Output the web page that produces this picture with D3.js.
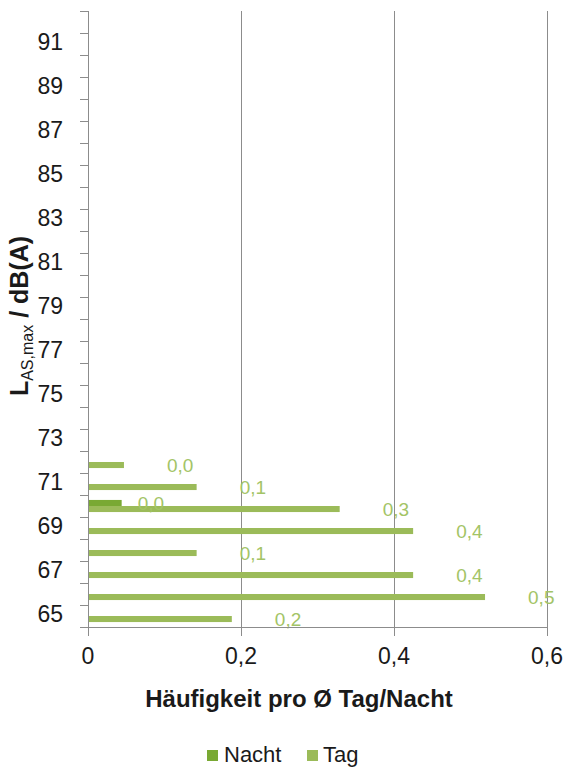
<!DOCTYPE html>
<html>
<head>
<meta charset="utf-8">
<script src="https://cdn.jsdelivr.net/npm/d3@7"></script>
<style>
  html, body { margin: 0; padding: 0; background: #ffffff; }
  svg { display: block; font-family: "Liberation Sans", Arial, sans-serif; }
</style>
</head>
<body>
<svg id="chart" width="566" height="769"></svg>
<script>
// ---- data ----
const categories = [65, 66, 67, 68, 69, 70, 71, 72, 73, 74, 75, 76, 77, 78, 79, 80, 81, 82, 83, 84, 85, 86, 87, 88, 89, 90, 91, 92];
const seriesNames = ["Nacht", "Tag"];
const nachtValues = [0, 0, 0, 0, 0, 0.044, 0, 0, 0, 0, 0, 0, 0, 0, 0, 0, 0, 0, 0, 0, 0, 0, 0, 0, 0, 0, 0, 0];
const tagValues = [0.188, 0.519, 0.425, 0.142, 0.425, 0.329, 0.142, 0.047, 0, 0, 0, 0, 0, 0, 0, 0, 0, 0, 0, 0, 0, 0, 0, 0, 0, 0, 0, 0];
const xTicks = [0, 0.2, 0.4, 0.6];
const yTickLabels = [65, 67, 69, 71, 73, 75, 77, 79, 81, 83, 85, 87, 89, 91];

// ---- layout ----
const svg = d3.select("#chart");
const margin = { left: 88, right: 19, top: 11, bottom: 142 };
const W = 566, H = 769;
const x0 = margin.left, x1 = W - margin.right;
const yTop = margin.top, yBot = H - margin.bottom;

const colors = { Nacht: "#79a933", Tag: "#9bbb59" };
const gridColor = "#8c8c8c";

const x = d3.scaleLinear().domain([0, 0.6]).range([x0, x1]);
const pIn = 0.45;
const y = d3.scaleBand().domain(categories.map(String)).range([yBot, yTop])
  .paddingInner(pIn).paddingOuter(pIn / 2);
const ySub = d3.scaleBand().domain(seriesNames).range([0, y.bandwidth()]);

const locale = d3.formatLocale({ decimal: ",", thousands: ".", grouping: [3], currency: ["", "€"] });
const fmt = locale.format(".1f");
const fmtTick = locale.format("~g");

// gridlines
svg.append("g").selectAll("line").data(xTicks.filter(d => d > 0)).join("line")
  .attr("x1", d => x(d) + 0.5).attr("x2", d => x(d) + 0.5)
  .attr("y1", yTop).attr("y2", yBot)
  .attr("stroke", gridColor).attr("stroke-width", 1);

// data rows
const rows = categories.map((c, i) => ({ cat: String(c), Nacht: nachtValues[i], Tag: tagValues[i] }));
const flat = [];
rows.forEach(r => seriesNames.forEach(s => flat.push({ cat: r.cat, series: s, value: r[s] })));

svg.append("g").selectAll("rect").data(flat.filter(d => d.value > 0)).join("rect")
  .attr("x", x(0))
  .attr("y", d => y(d.cat) + ySub(d.series))
  .attr("width", d => x(d.value) - x(0))
  .attr("height", ySub.bandwidth())
  .attr("fill", d => colors[d.series]);

// data labels
const labelOffset = { Nacht: 16, Tag: 43 };
svg.append("g").selectAll("text").data(flat.filter(d => d.value > 0)).join("text")
  .attr("x", d => x(d.value) + labelOffset[d.series])
  .attr("y", d => y(d.cat) + ySub(d.series) + ySub.bandwidth() / 2 + 2)
  .attr("dominant-baseline", "middle")
  .attr("font-size", 19)
  .attr("fill", "#a3c466")
  .text(d => fmt(d.value));

// y axis
const yAxisG = svg.append("g");
yAxisG.append("line").attr("x1", x0 + 0.5).attr("x2", x0 + 0.5).attr("y1", yTop).attr("y2", yBot + 8)
  .attr("stroke", gridColor);
const boundaries = d3.range(categories.length + 1).map(i => yBot - i * y.step());
yAxisG.selectAll("line.tick").data(boundaries).join("line").attr("class", "tick")
  .attr("x1", x0 - 8).attr("x2", x0).attr("y1", d => Math.round(d) + 0.5).attr("y2", d => Math.round(d) + 0.5)
  .attr("stroke", gridColor);
yAxisG.selectAll("text").data(yTickLabels).join("text")
  .attr("x", 63).attr("y", d => y(String(d)) + y.bandwidth() / 2)
  .attr("text-anchor", "end").attr("dominant-baseline", "middle")
  .attr("font-size", 23).attr("fill", "#1a1a1a")
  .text(d => d);

// x axis
const xAxisG = svg.append("g");
xAxisG.append("line").attr("x1", x0).attr("x2", x1 + 1).attr("y1", yBot + 0.5).attr("y2", yBot + 0.5)
  .attr("stroke", gridColor);
xAxisG.selectAll("line.tick").data(xTicks).join("line").attr("class", "tick")
  .attr("x1", d => x(d) + 0.5).attr("x2", d => x(d) + 0.5).attr("y1", yBot).attr("y2", yBot + 9)
  .attr("stroke", gridColor);
xAxisG.selectAll("text").data(xTicks).join("text")
  .attr("x", d => x(d)).attr("y", 658)
  .attr("text-anchor", "middle").attr("dominant-baseline", "middle")
  .attr("font-size", 23).attr("fill", "#1a1a1a")
  .text(d => fmtTick(d));

// x axis title
svg.append("text").attr("x", 299).attr("y", 701)
  .attr("text-anchor", "middle").attr("dominant-baseline", "middle")
  .attr("font-size", 24).attr("font-weight", "bold").attr("fill", "#1a1a1a")
  .text("Häufigkeit pro Ø Tag/Nacht");

// y axis title
const yt = svg.append("text")
  .attr("transform", "translate(28,316) rotate(-90)")
  .attr("text-anchor", "middle")
  .attr("font-size", 25).attr("font-weight", "bold").attr("fill", "#1a1a1a");
yt.append("tspan").text("L");
yt.append("tspan").attr("font-size", 16).attr("font-weight", "normal").attr("dy", 5).text("AS,max");
yt.append("tspan").attr("dy", -5).text(" / dB(A)");

// legend
const legend = svg.append("g");
const legendItems = [
  { name: "Nacht", sq: 207, tx: 224 },
  { name: "Tag", sq: 307, tx: 323 }
];
legend.selectAll("rect").data(legendItems).join("rect")
  .attr("x", d => d.sq).attr("y", 750).attr("width", 11).attr("height", 11)
  .attr("fill", d => colors[d.name]);
legend.selectAll("text").data(legendItems).join("text")
  .attr("x", d => d.tx).attr("y", 756).attr("dominant-baseline", "middle")
  .attr("font-size", 22).attr("fill", "#1a1a1a")
  .text(d => d.name);
</script>
</body>
</html>
